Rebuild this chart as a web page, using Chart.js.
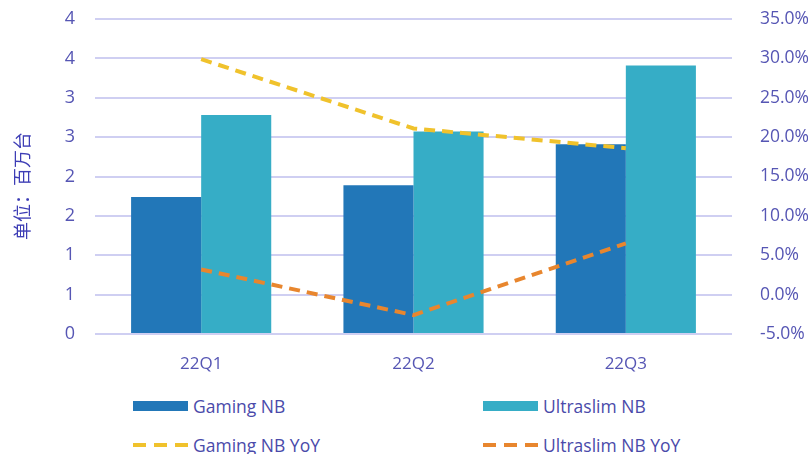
<!DOCTYPE html>
<html>
<head>
<meta charset="utf-8">
<script src="https://cdn.jsdelivr.net/npm/chart.js@4"></script>
<style>
  html, body { margin: 0; padding: 0; background: #fff; }
  #wrap { position: relative; width: 808px; height: 454px; overflow: hidden; font-family: "Open Sans", sans-serif; }
  #cv { position: absolute; left: 0; top: 0; }
  .ytitle { position: absolute; left: 21px; top: 186px; transform: translate(-50%, -50%) rotate(-90deg);
            white-space: nowrap; font-family: "Noto Sans CJK SC", sans-serif; font-size: 18px; color: #3d3db5; }
  .lg { position: absolute; display: flex; align-items: center; font-size: 17.5px; color: #4a4aaa; height: 22px; }
  .lg svg { margin-right: 5px; }
</style>
</head>
<body>
<div id="wrap">
  <canvas id="cv" width="808" height="380"></canvas>
  <div class="ytitle">单位：百万台</div>
  <div id="legend"></div>
</div>
<script>
// 数据
const categories = ['22Q1', '22Q2', '22Q3'];
const gamingNB = [1.74, 1.89, 2.41];
const ultraslimNB = [2.78, 2.57, 3.41];
const gamingYoY = [29.9, 21.1, 18.6];
const ultraslimYoY = [3.2, -2.6, 6.5];
const leftTickLabels = ['0', '1', '1', '2', '2', '3', '3', '4', '4'];
const rightTickLabels = ['-5.0%', '0.0%', '5.0%', '10.0%', '15.0%', '20.0%', '25.0%', '30.0%', '35.0%'];

const C_GAMING = '#2277b8';
const C_ULTRA = '#36adc6';
const C_GYOY = '#f0c22c';
const C_UYOY = '#e8862e';
const TICK = '#5656b4';

new Chart(document.getElementById('cv').getContext('2d'), {
    type: 'bar',
    data: {
        labels: categories,
        datasets: [
            { label: 'Gaming NB YoY', type: 'line', data: gamingYoY, yAxisID: 'y1', order: 0,
              borderColor: C_GYOY, borderWidth: 4, borderDash: [11, 7], pointRadius: 0, tension: 0, fill: false },
            { label: 'Ultraslim NB YoY', type: 'line', data: ultraslimYoY, yAxisID: 'y1', order: 0,
              borderColor: C_UYOY, borderWidth: 4, borderDash: [11, 7], pointRadius: 0, tension: 0, fill: false },
            { label: 'Gaming NB', data: gamingNB, backgroundColor: C_GAMING, yAxisID: 'y', order: 1,
              categoryPercentage: 0.66, barPercentage: 1.0 },
            { label: 'Ultraslim NB', data: ultraslimNB, backgroundColor: C_ULTRA, yAxisID: 'y', order: 1,
              categoryPercentage: 0.66, barPercentage: 1.0 }
        ]
    },
    options: {
        responsive: false,
        animation: false,
        layout: { padding: { top: 19, left: 0, right: 0, bottom: 0 } },
        plugins: { legend: { display: false }, tooltip: { enabled: false } },
        scales: {
            x: {
                grid: { display: false },
                border: { display: false },
                ticks: { color: TICK, font: { family: 'Open Sans', size: 17 }, padding: 12 },
                afterFit: s => { s.height = 46; }
            },
            y: {
                position: 'left',
                min: 0, max: 4,
                ticks: { stepSize: 0.5, color: TICK, padding: 20, font: { family: 'Open Sans', size: 18 },
                         callback: (v, i) => leftTickLabels[i] },
                grid: { color: '#cfcff2', lineWidth: 2, drawTicks: false },
                border: { display: false },
                afterFit: s => { s.width = 95; s.paddingTop = 0; s.paddingBottom = 0; }
            },
            y1: {
                position: 'right',
                min: -5, max: 35,
                ticks: { stepSize: 5, color: TICK, padding: 20, font: { family: 'Open Sans', size: 17.5 },
                         callback: (v, i) => rightTickLabels[i] },
                grid: { display: false },
                border: { display: false },
                afterFit: s => { s.width = 76; s.paddingTop = 0; s.paddingBottom = 0; }
            }
        }
    }
});

// 图例
const legendItems = [
    { text: 'Gaming NB', color: C_GAMING, dash: false, x: 133, y: 395 },
    { text: 'Ultraslim NB', color: C_ULTRA, dash: false, x: 483, y: 395 },
    { text: 'Gaming NB YoY', color: C_GYOY, dash: true, x: 133, y: 434 },
    { text: 'Ultraslim NB YoY', color: C_UYOY, dash: true, x: 483, y: 434 }
];
const lg = document.getElementById('legend');
legendItems.forEach(it => {
    const d = document.createElement('div');
    d.className = 'lg';
    d.style.left = it.x + 'px';
    d.style.top = it.y + 'px';
    const sw = it.dash
        ? `<svg width="55" height="22"><line x1="0" y1="11" x2="55" y2="11" stroke="${it.color}" stroke-width="4" stroke-dasharray="13,8"/></svg>`
        : `<svg width="55" height="22"><rect x="0" y="6" width="55" height="10" fill="${it.color}"/></svg>`;
    d.innerHTML = sw + '<span>' + it.text + '</span>';
    lg.appendChild(d);
});
</script>
</body>
</html>
